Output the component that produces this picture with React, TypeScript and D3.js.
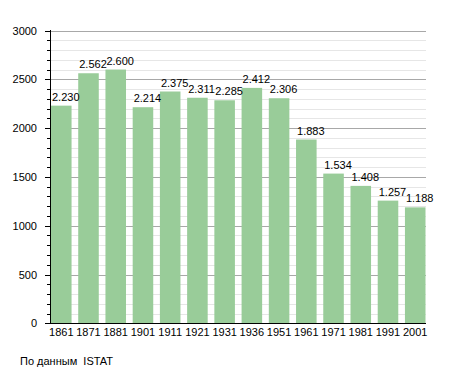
import { useEffect, useRef } from "react"
import * as d3 from "d3"

const years = ["1861", "1871", "1881", "1901", "1911", "1921", "1931", "1936", "1951", "1961", "1971", "1981", "1991", "2001"]
const population = [2230, 2562, 2600, 2214, 2375, 2311, 2285, 2412, 2306, 1883, 1534, 1408, 1257, 1188]
const yTicks = [0, 500, 1000, 1500, 2000, 2500, 3000]
const sourceNote = "По данным  ISTAT"

export default function App() {
  const svgRef = useRef<SVGSVGElement>(null)

  useEffect(() => {
    if (!svgRef.current) return
    d3.select(svgRef.current).selectAll("*").remove()

    const width = 455
    const height = 373
    const font = "'Liberation Sans', Arial, sans-serif"

    const x = d3.scaleBand<string>().domain(years).range([51, 425.5]).paddingInner(0.245).paddingOuter(0).align(0)
    const y = d3.scaleLinear().domain([0, 3000]).range([323.3, 30.5])

    const svg = d3.select(svgRef.current).attr("width", width).attr("height", height).style("display", "block")
    svg.append("rect").attr("width", width).attr("height", height).attr("fill", "#fff")

    // grid: minor every 100, major every 500
    const minor = d3.range(100, 3001, 100).filter((v) => v % 500 !== 0)
    svg
      .selectAll("line.minor")
      .data(minor)
      .enter()
      .append("line")
      .attr("x1", 50)
      .attr("x2", 426)
      .attr("y1", (d) => Math.round(y(d)) + 0.5)
      .attr("y2", (d) => Math.round(y(d)) + 0.5)
      .attr("stroke", "#e6e6e6")
      .attr("stroke-width", 1)

    svg
      .selectAll("line.major")
      .data(yTicks.filter((d) => d > 0))
      .enter()
      .append("line")
      .attr("x1", 50)
      .attr("x2", 426)
      .attr("y1", (d) => Math.round(y(d)) + 0.5)
      .attr("y2", (d) => Math.round(y(d)) + 0.5)
      .attr("stroke", "#a8a8a8")
      .attr("stroke-width", 1)

    // bars
    svg
      .selectAll("rect.bar")
      .data(population)
      .enter()
      .append("rect")
      .attr("x", (_, i) => x(years[i])!)
      .attr("y", (d) => y(d))
      .attr("width", x.bandwidth())
      .attr("height", (d) => y(0) - y(d))
      .attr("fill", "#99cc99")

    // value labels
    svg
      .selectAll("text.val")
      .data(population)
      .enter()
      .append("text")
      .attr("x", (_, i) => x(years[i])! + 1)
      .attr("y", (d) => y(d) - 5)
      .attr("font-family", font)
      .attr("font-size", 11)
      .attr("fill", "#000")
      .text((d) => d3.format(",")(d).replace(",", "."))

    // y axis
    svg.append("line").attr("x1", 50.5).attr("x2", 50.5).attr("y1", 30).attr("y2", 324).attr("stroke", "#000")
    svg
      .selectAll("line.ytick")
      .data(yTicks)
      .enter()
      .append("line")
      .attr("x1", 45)
      .attr("x2", 50)
      .attr("y1", (d) => Math.round(y(d)) + 0.5)
      .attr("y2", (d) => Math.round(y(d)) + 0.5)
      .attr("stroke", "#000")
    svg
      .selectAll("line.yminor")
      .data(minor)
      .enter()
      .append("line")
      .attr("x1", 47)
      .attr("x2", 50)
      .attr("y1", (d) => Math.round(y(d)) + 0.5)
      .attr("y2", (d) => Math.round(y(d)) + 0.5)
      .attr("stroke", "#000")
    svg
      .selectAll("text.ylab")
      .data(yTicks)
      .enter()
      .append("text")
      .attr("x", 37)
      .attr("y", (d) => y(d) + 4)
      .attr("text-anchor", "end")
      .attr("font-family", font)
      .attr("font-size", 11)
      .text((d) => d)

    // x axis
    svg.append("line").attr("x1", 45).attr("x2", 426).attr("y1", 323.5).attr("y2", 323.5).attr("stroke", "#000")
    svg
      .selectAll("text.xlab")
      .data(years)
      .enter()
      .append("text")
      .attr("x", (d) => x(d)! + x.bandwidth() / 2)
      .attr("y", 336)
      .attr("text-anchor", "middle")
      .attr("font-family", font)
      .attr("font-size", 11)
      .text((d) => d)

    svg
      .append("text")
      .attr("x", 20)
      .attr("y", 365)
      .attr("font-family", font)
      .attr("font-size", 11)
      .style("white-space", "pre")
      .text(sourceNote)
  }, [])

  return (
    <div style={{ position: "absolute", left: 0, top: 0 }}>
      <svg ref={svgRef} />
    </div>
  )
}
